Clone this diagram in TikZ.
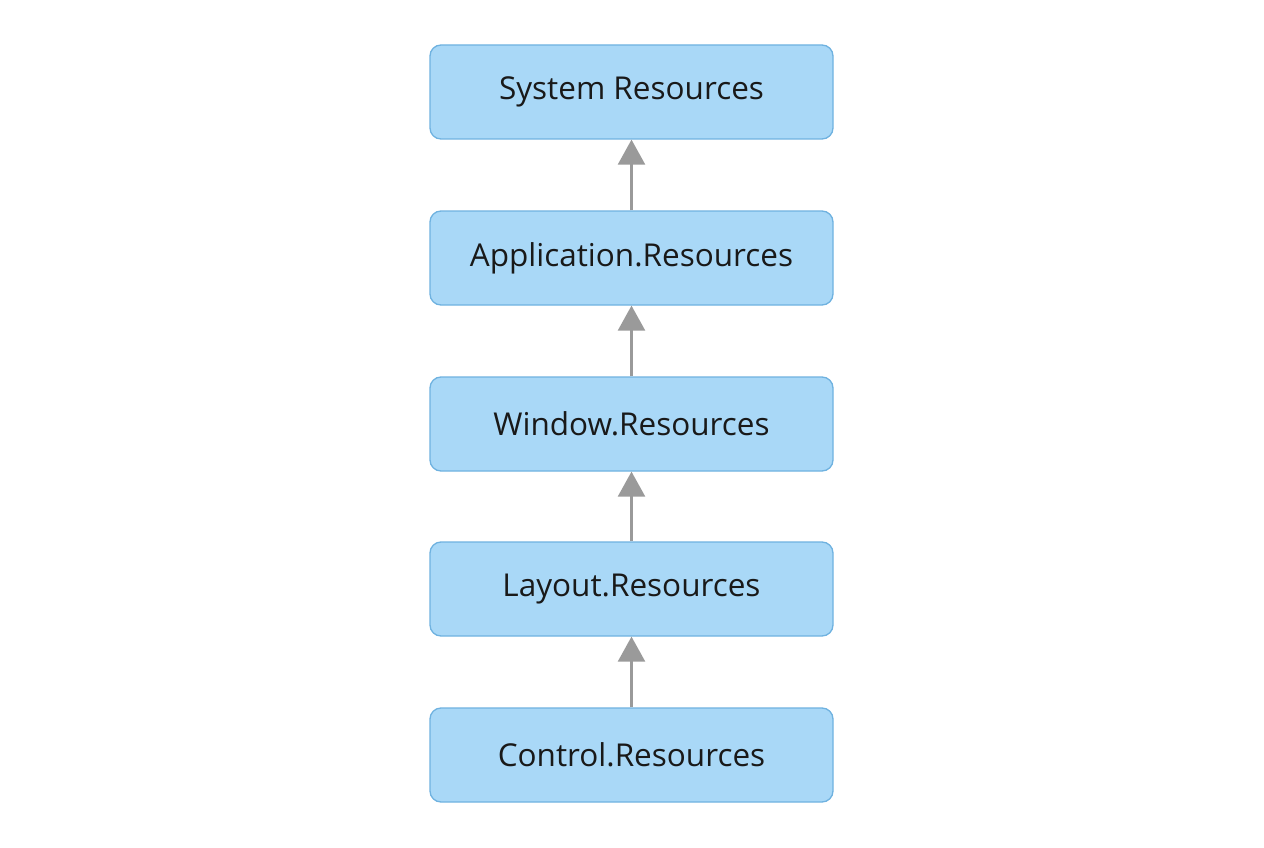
\documentclass[tikz,border=0pt]{standalone}
\usepackage{fontspec}
\setmainfont{Open Sans}
\usetikzlibrary{arrows.meta}
\definecolor{boxfill}{HTML}{A9D8F7}
\definecolor{boxdraw}{HTML}{6FB2E0}
\definecolor{arr}{HTML}{9A9A9A}
\begin{document}
\begin{tikzpicture}[x=1pt,y=-1pt,
  box/.style={draw=boxdraw,fill=boxfill,line width=1.3pt,rounded corners=11pt,minimum width=403pt,minimum height=94pt,font=\fontsize{31.5}{36}\selectfont,text=black!90},
  up/.style={draw=arr,line width=2.5pt,-{Triangle[length=25pt,width=27pt]}}]
\useasboundingbox (0,0) rectangle (1264,848);
\fill[white] (0,0) rectangle (1264,848);
\node[box] (s) at (631.5,92) {System Resources};
\node[box] (a) at (631.5,258) {Application.Resources};
\node[box] (w) at (631.5,424) {Window.Resources};
\node[box] (l) at (631.5,589) {Layout.Resources};
\node[box] (c) at (631.5,755) {Control.Resources};
\draw[up] (a) -- (s);
\draw[up] (w) -- (a);
\draw[up] (l) -- (w);
\draw[up] (c) -- (l);
\end{tikzpicture}
\end{document}
